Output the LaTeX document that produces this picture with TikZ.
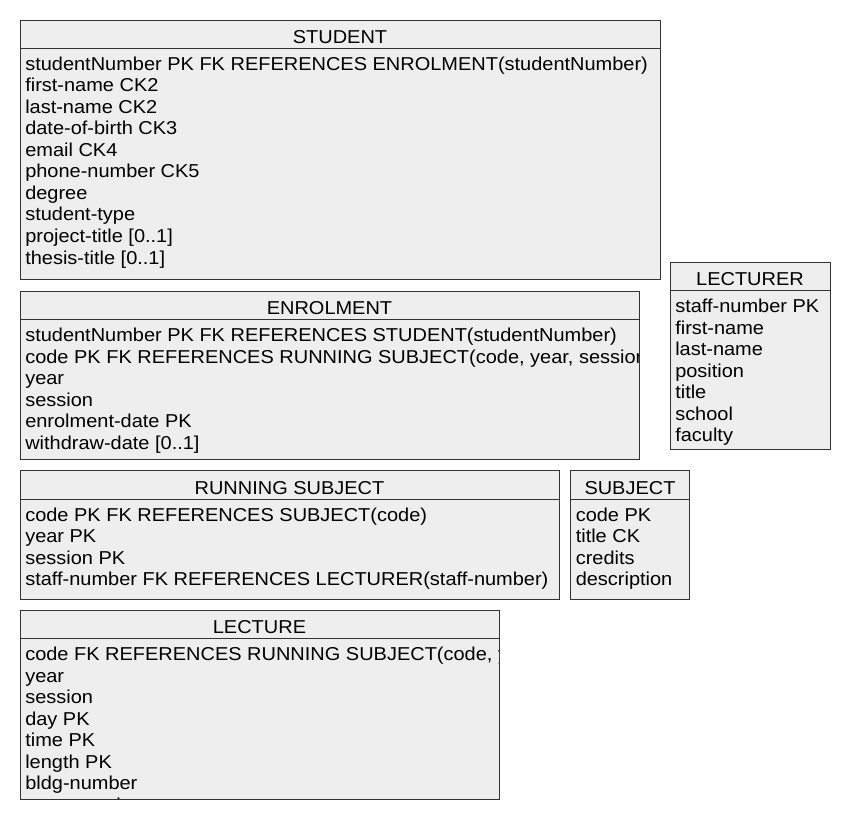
\documentclass[tikz,border=0pt]{standalone}
\usepackage{fontspec}
\setmainfont{Liberation Sans}[FakeStretch=1.07]
\definecolor{boxfill}{HTML}{EEEEEE}
\definecolor{linec}{HTML}{333333}
\tikzset{
  edge/.style={draw=linec, line width=0.7pt},
  ttl/.style={anchor=base, inner sep=0pt, font=\fontsize{14pt}{16pt}\selectfont},
  rowtxt/.style={anchor=base west, inner sep=0pt, font=\fontsize{14pt}{16pt}\selectfont},
}
\newcommand\ertable[7]{%
  \fill[boxfill] (#2,#3) rectangle (#4,#5);
  \begin{scope}
    \clip (#2,#3) rectangle (#4,#5);
    \node[ttl] (#1-title) at ({(#2+#4)/2},#3+23.5) {#6};
    \foreach \r [count=\i from 0] in {#7} {
      \node[rowtxt] (#1-\i) at (#2+5,#3+50.5+\i*21.5) {\r};
    }
  \end{scope}
  \draw[edge] (#2,#3) rectangle (#4,#5);
  \draw[edge] (#2,#3+28.5) -- (#4,#3+28.5);
}
\begin{document}
\begin{tikzpicture}[x=0.75pt,y=-0.75pt]
\fill[white] (0,0) rectangle (850,820);
\useasboundingbox (0,0) rectangle (850,820);

\ertable{student}{20}{20}{660}{279}{STUDENT}{%
  {studentNumber PK FK REFERENCES ENROLMENT(studentNumber)},
  {first-name CK2},{last-name CK2},{date-of-birth CK3},{email CK4},
  {phone-number CK5},{degree},{student-type},{project-title [0..1]},
  {thesis-title [0..1]}}

\ertable{enrolment}{20}{291}{639}{459}{ENROLMENT}{%
  {studentNumber PK FK REFERENCES STUDENT(studentNumber)},
  {code PK FK REFERENCES RUNNING SUBJECT(code, year, session)},
  {year},{session},{enrolment-date PK},{withdraw-date [0..1]}}

\ertable{lecturer}{670}{262}{830}{449}{LECTURER}{%
  {staff-number PK},{first-name},{last-name},{position},{title},{school},{faculty}}

\ertable{running}{20}{470.5}{559}{599}{RUNNING SUBJECT}{%
  {code PK FK REFERENCES SUBJECT(code)},{year PK},{session PK},
  {staff-number FK REFERENCES LECTURER(staff-number)}}

\ertable{subject}{570.5}{470.5}{689.5}{599}{SUBJECT}{%
  {code PK},{title CK},{credits},{description}}

\ertable{lecture}{20}{610}{499}{799}{LECTURE}{%
  {code FK REFERENCES RUNNING SUBJECT(code, year, session)},
  {year},{session},{day PK},{time PK},{length PK},{bldg-number},{room-number}}
\end{tikzpicture}
\end{document}
